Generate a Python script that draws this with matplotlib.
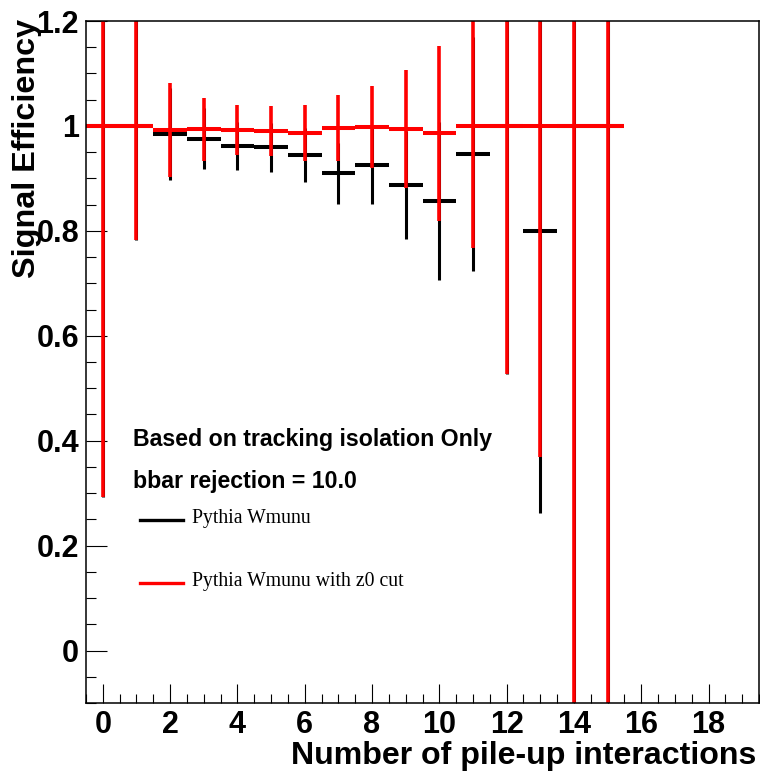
import matplotlib
matplotlib.use("Agg")
import matplotlib.pyplot as plt
import numpy as np
from matplotlib.ticker import MultipleLocator

# ── Data ─────────────────────────────────────────────────────────────────────
n_pileup = [0, 1, 2, 3, 4, 5, 6, 7, 8, 9, 10, 11, 12, 13, 14, 15]

eff_plain = [1.0, 1.0, 0.985, 0.976, 0.962, 0.959, 0.945, 0.910, 0.926,
             0.887, 0.857, 0.946, 1.0, 0.800, 1.0, 1.0]
err_plain = [0.708, 0.218, 0.088, 0.059, 0.046, 0.046, 0.051, 0.058, 0.075,
             0.103, 0.151, 0.223, 0.472, 0.537, 1.5, 1.5]

eff_z0 = [1.0, 1.0, 0.992, 0.994, 0.992, 0.990, 0.987, 0.996, 0.998,
          0.994, 0.986, 1.0, 1.0, 1.0, 1.0, 1.0]
err_z0 = [0.707, 0.218, 0.089, 0.060, 0.048, 0.048, 0.053, 0.063, 0.079,
          0.112, 0.167, 0.232, 0.472, 0.632, 1.5, 1.5]

y_ticks = [0, 0.2, 0.4, 0.6, 0.8, 1.0, 1.2]
y_tick_labels = ["0", "0.2", "0.4", "0.6", "0.8", "1", "1.2"]
x_ticks = [0, 2, 4, 6, 8, 10, 12, 14, 16, 18]

SANS = "Liberation Sans"
SERIF = "Liberation Serif"

fig = plt.figure(figsize=(7.6, 7.75), dpi=100)
ax = fig.add_axes([86 / 760, 72 / 775, 673 / 760, 682 / 775])

x = np.array(n_pileup)

# black series first, red drawn on top (as in the ROOT canvas)
ax.errorbar(x, eff_plain, yerr=err_plain, fmt="none", ecolor="black",
            elinewidth=2.2, capsize=0)
ax.errorbar(x, eff_plain, xerr=0.5, fmt="none", ecolor="black",
            elinewidth=2.9, capsize=0)
ax.errorbar(x, eff_z0, yerr=err_z0, fmt="none", ecolor="#ff0000",
            elinewidth=2.6, capsize=0)
ax.errorbar(x, eff_z0, xerr=0.5, fmt="none", ecolor="#ff0000",
            elinewidth=2.9, capsize=0)

ax.set_xlim(-0.5, 19.5)
ax.set_ylim(-0.1, 1.2)

ax.set_xticks(x_ticks)
ax.set_xticklabels([str(t) for t in x_ticks])
ax.xaxis.set_minor_locator(MultipleLocator(0.5))
ax.set_yticks(y_ticks)
ax.set_yticklabels(y_tick_labels)
ax.yaxis.set_minor_locator(MultipleLocator(0.05))

ax.tick_params(axis="x", which="major", direction="in", length=14, width=0.8,
               pad=5, top=False)
ax.tick_params(axis="x", which="minor", direction="in", length=6.8, width=0.8,
               top=False)
ax.tick_params(axis="y", which="major", direction="in", length=15, width=0.8,
               pad=5, right=False)
ax.tick_params(axis="y", which="minor", direction="in", length=7.3, width=0.8,
               right=False)
for lab in ax.get_xticklabels() + ax.get_yticklabels():
    lab.set_fontfamily(SANS)
    lab.set_fontweight("bold")
    lab.set_fontsize(22)

for sp in ax.spines.values():
    sp.set_linewidth(1.1)

# axis titles (ROOT style: aligned to the far ends)
fig.text(27 / 760, 1 - 19 / 775, "Signal Efficiency", rotation=90,
         ha="center", va="top", fontsize=23.3, fontweight="bold", family=SANS)
fig.text(756 / 760, 1 - 756 / 775, "Number of pile-up interactions",
         ha="right", va="center", fontsize=23.1, fontweight="bold", family=SANS)

# annotations
ax.text(0.0698, 0.386, "Based on tracking isolation Only", transform=ax.transAxes,
        ha="left", va="center", fontsize=16.7, fontweight="bold", family=SANS)
ax.text(0.0698, 0.3255, "bbar rejection = 10.0", transform=ax.transAxes,
        ha="left", va="center", fontsize=16.7, fontweight="bold", family=SANS)

# hand-made legend
ax.plot([0.080, 0.144], [0.268, 0.268], color="black", lw=2.4,
        transform=ax.transAxes)
ax.text(0.1575, 0.270, "Pythia Wmunu", transform=ax.transAxes,
        ha="left", va="center", fontsize=14.2, family=SERIF)
ax.plot([0.080, 0.144], [0.176, 0.176], color="#ff0000", lw=2.4,
        transform=ax.transAxes)
ax.text(0.1575, 0.178, "Pythia Wmunu with z0 cut", transform=ax.transAxes,
        ha="left", va="center", fontsize=14.2, family=SERIF)

plt.savefig("out.png", dpi=100)
